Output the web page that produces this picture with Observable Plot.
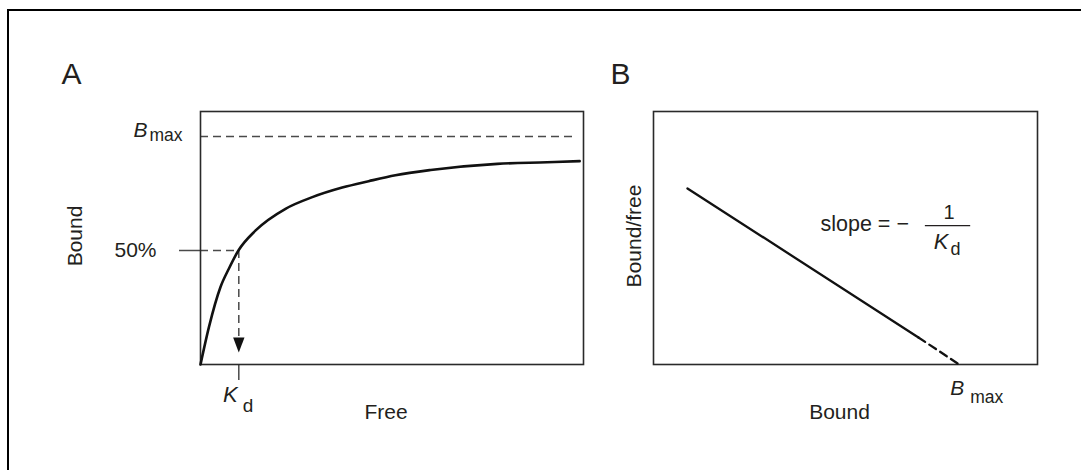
<!DOCTYPE html>
<html>
<head>
<meta charset="utf-8">
<script src="https://cdn.jsdelivr.net/npm/d3@7"></script>
<script src="https://cdn.jsdelivr.net/npm/@observablehq/plot@0.6"></script>
<style>
  html, body { margin: 0; padding: 0; background: #fff; }
  #wrap { position: relative; width: 1081px; height: 470px; overflow: hidden; background: #fff; }
  #wrap svg { position: absolute; top: 0; }
  #border { position: absolute; left: 7px; top: 9px; width: 1080px; height: 470px;
            border-top: 2px solid #000; border-left: 2px solid #000; z-index: 5; pointer-events: none; }
</style>
</head>
<body>
<div id="wrap"><div id="border"></div></div>
<script>
// ---------- Panel A : saturation binding curve ----------
const freeA  = [0, 0.22, 0.52, 0.74, 0.99, 1.44, 2.22, 2.92, 3.70, 4.39, 5.09, 6.01, 7.75, 9.05, 9.90];
const boundA = [0, 0.164, 0.339, 0.42, 0.50, 0.588, 0.683, 0.734, 0.776, 0.804, 0.830, 0.853, 0.880, 0.887, 0.892];
const Kd = 1.0;            // free concentration at half saturation
const halfLevel = 0.5;     // 50 % of Bmax
const BmaxA = 1.0;         // saturation level
const BmaxLineEnd = 9.8;   // end of the dashed Bmax guide
const arrowTip = 0.053;    // where the Kd arrow stops

// ---------- Panel B : Scatchard plot ----------
const boundB = [0.885, 6.90];
const ratioB = [0.696, 0.107];
const boundBdash = [6.90, 7.96];
const ratioBdash = [0.107, 0];
const BmaxB = 7.96;
const fracLine = {x1: 7.08, x2: 8.26, y: 0.549};

const ink = "#231f20";
const guide = "#4a4a4a";
const font = "'Liberation Sans', Arial, Helvetica, sans-serif";

const curveA = freeA.map((f, i) => ({free: f, bound: boundA[i]}));
const lineB = boundB.map((b, i) => ({bound: b, ratio: ratioB[i]}));
const dashB = boundBdash.map((b, i) => ({bound: b, ratio: ratioBdash[i]}));

const triangleDown = {
  draw(context, size) {
    const r = Math.sqrt(size / Math.PI);
    context.moveTo(0, 0);
    context.lineTo(-1.14 * r, -3 * r);
    context.lineTo(1.14 * r, -3 * r);
    context.closePath();
  }
};

const common = {
  height: 470,
  style: {background: "transparent", overflow: "visible", fontFamily: font, color: ink},
  marginTop: 111,
  marginBottom: 106
};

const plotA = Plot.plot({
  ...common,
  width: 600,
  marginLeft: 200,
  marginRight: 17,
  x: {domain: [0, 10], axis: null},
  y: {domain: [0, 1.1096], axis: null},
  marks: [
    // guides
    Plot.ruleY([BmaxA], {x1: 0, x2: BmaxLineEnd, stroke: guide, strokeWidth: 1.5, strokeDasharray: "8,5"}),
    Plot.ruleY([halfLevel], {x1: 0, x2: Kd, stroke: guide, strokeWidth: 1.5, strokeDasharray: "8,5"}),
    Plot.ruleX([Kd], {y1: halfLevel, y2: arrowTip + 0.06, stroke: guide, strokeWidth: 1.5, strokeDasharray: "8,5"}),
    Plot.dot([{x: Kd, y: arrowTip}], {x: "x", y: "y", symbol: triangleDown, r: 5, fill: "#111", stroke: "none"}),
    // tick marks
    Plot.axisY([halfLevel], {anchor: "left", tickSize: 21, tickPadding: 23, tickFormat: () => "50%",
      fontSize: 21, stroke: guide, strokeWidth: 1.5, fill: ink, label: null}),
    Plot.axisX([Kd], {anchor: "bottom", tickSize: 16, tickFormat: () => "", stroke: guide, strokeWidth: 1.5, label: null}),
    // frame + curve
    Plot.frame({stroke: "#2a2a2a", strokeWidth: 1.6}),
    Plot.line(curveA, {x: "free", y: "bound", curve: "monotone-x", stroke: "#111", strokeWidth: 2.6}),
    // labels
    Plot.text(["A"], {frameAnchor: "top-left", dx: -139, dy: -28, fontSize: 30, lineAnchor: "bottom", textAnchor: "start", fill: ink}),
    Plot.text(["Bound"], {frameAnchor: "left", dx: -119, dy: -2, rotate: -90, fontSize: 21, lineAnchor: "bottom", textAnchor: "middle", fill: ink}),
    Plot.text(["Free"], {frameAnchor: "bottom", dx: -6, dy: 54, fontSize: 21, lineAnchor: "bottom", textAnchor: "middle", fill: ink}),
    Plot.text([{x: 0, y: BmaxA}], {x: "x", y: "y", text: () => "B", dx: -53, dy: 1, fontSize: 21, fontStyle: "italic", lineAnchor: "bottom", textAnchor: "end", fill: ink}),
    Plot.text([{x: 0, y: BmaxA}], {x: "x", y: "y", text: () => "max", dx: -18, dy: 5, fontSize: 17.5, lineAnchor: "bottom", textAnchor: "end", fill: ink}),
    Plot.text([{x: Kd, y: 0}], {x: "x", y: "y", text: () => "K", dx: -1, dy: 37, fontSize: 22, fontStyle: "italic", lineAnchor: "bottom", textAnchor: "end", fill: ink}),
    Plot.text([{x: Kd, y: 0}], {x: "x", y: "y", text: () => "d", dx: 4, dy: 47, fontSize: 19, lineAnchor: "bottom", textAnchor: "start", fill: ink})
  ]
});

const plotB = Plot.plot({
  ...common,
  width: 541,
  marginLeft: 113,
  marginRight: 44,
  x: {domain: [0, 10], axis: null},
  y: {domain: [0, 1], axis: null},
  marks: [
    Plot.frame({stroke: "#2a2a2a", strokeWidth: 1.6}),
    Plot.line(lineB, {x: "bound", y: "ratio", stroke: "#111", strokeWidth: 2.3}),
    Plot.line(dashB, {x: "bound", y: "ratio", stroke: "#111", strokeWidth: 2.3, strokeDasharray: "8,5"}),
    Plot.ruleY([fracLine.y], {x1: fracLine.x1, x2: fracLine.x2, stroke: ink, strokeWidth: 1.4}),
    Plot.text(["B"], {frameAnchor: "top-left", dx: -43, dy: -28, fontSize: 30, lineAnchor: "bottom", textAnchor: "start", fill: ink}),
    Plot.text(["Bound/free"], {frameAnchor: "left", dx: -13, dy: -2, rotate: -90, fontSize: 21, lineAnchor: "bottom", textAnchor: "middle", fill: ink}),
    Plot.text(["Bound"], {frameAnchor: "bottom", dx: -6, dy: 54, fontSize: 21, lineAnchor: "bottom", textAnchor: "middle", fill: ink}),
    Plot.text([{x: BmaxB, y: 0}], {x: "x", y: "y", text: () => "B", dx: -9, dy: 30, fontSize: 21, fontStyle: "italic", lineAnchor: "bottom", textAnchor: "start", fill: ink}),
    Plot.text([{x: BmaxB, y: 0}], {x: "x", y: "y", text: () => "max", dx: 11, dy: 38, fontSize: 17.5, lineAnchor: "bottom", textAnchor: "start", fill: ink}),
    Plot.text(["slope = \u2212"], {frameAnchor: "top-left", dx: 167, dy: 119, fontSize: 21.5, lineAnchor: "bottom", textAnchor: "start", fill: ink}),
    Plot.text(["1"], {frameAnchor: "top-left", dx: 295.5, dy: 107, fontSize: 20, lineAnchor: "bottom", textAnchor: "middle", fill: ink}),
    Plot.text(["K"], {frameAnchor: "top-left", dx: 295, dy: 137, fontSize: 22, fontStyle: "italic", lineAnchor: "bottom", textAnchor: "end", fill: ink}),
    Plot.text(["d"], {frameAnchor: "top-left", dx: 297, dy: 143, fontSize: 18, lineAnchor: "bottom", textAnchor: "start", fill: ink})
  ]
});

plotA.style.left = "0px";
plotB.style.left = "540px";
const wrap = document.getElementById("wrap");
wrap.appendChild(plotA);
wrap.appendChild(plotB);
</script>
</body>
</html>
